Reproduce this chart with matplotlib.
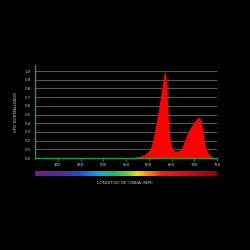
import numpy as np
import matplotlib
matplotlib.use("Agg")
import matplotlib.pyplot as plt
from matplotlib.colors import LinearSegmentedColormap

# Spectral power distribution
wavelength = [540, 560, 570, 580, 590, 595, 600, 605, 610, 615, 620, 625, 630,
              633, 635, 637, 640, 643, 646, 650, 655, 660, 665, 670, 675, 680,
              685, 690, 695, 700, 705, 710, 713, 716, 719, 722, 726, 730, 735,
              740, 745]
spd = [0.0, 0.005, 0.01, 0.02, 0.04, 0.06, 0.08, 0.13, 0.24, 0.37, 0.52, 0.68,
       0.86, 0.96, 1.0, 0.97, 0.78, 0.45, 0.24, 0.13, 0.09, 0.08, 0.085, 0.10,
       0.15, 0.22, 0.29, 0.34, 0.38, 0.42, 0.45, 0.47, 0.46, 0.40, 0.29, 0.20,
       0.10, 0.06, 0.03, 0.01, 0.0]

x_ticks = [400, 450, 500, 550, 600, 650, 700, 750]
y_ticks = [0.0, 0.1, 0.2, 0.3, 0.4, 0.5, 0.6, 0.7, 0.8, 0.9, 1.0]

green = "#1f9a4f"
grey_txt = "#cccccc"

fig = plt.figure(figsize=(2.5, 2.5), dpi=100, facecolor="black")

ax = fig.add_axes([0.14, 0.368, 0.728, 0.372])
ax.set_facecolor("black")
ax.set_xlim(350, 750)
ax.set_ylim(0, 1.07)

for y in y_ticks[1:]:
    ax.axhline(y, color="#555555", linewidth=0.8, zorder=1)

ax.fill_between(wavelength, spd, color="#ff0000", linewidth=0, zorder=2)

ax.set_xticks(x_ticks)
ax.set_yticks(y_ticks)
ax.set_xticklabels([str(v) for v in x_ticks])
ax.set_yticklabels(["%.1f" % v for v in y_ticks])
ax.tick_params(axis="x", colors=green, labelcolor=grey_txt, labelsize=2.8,
               length=2, width=0.6, pad=1.5)
ax.tick_params(axis="y", length=0, labelcolor=grey_txt, labelsize=2.8, pad=3)

for side in ["top", "right"]:
    ax.spines[side].set_visible(False)
for side in ["left", "bottom"]:
    ax.spines[side].set_color(green)
    ax.spines[side].set_linewidth(1.0)

ax.set_ylabel("SPD NORMALIZADO", color=grey_txt, fontsize=3, labelpad=5)

# Visible spectrum strip under the axis
spectrum = LinearSegmentedColormap.from_list("spectrum", [
    (0.0, "#7a1a8c"),
    (0.15, "#4b2ca8"),
    (0.25, "#1f4fd8"),
    (0.35, "#10a8e8"),
    (0.43, "#10c060"),
    (0.52, "#7fd020"),
    (0.56, "#f0e000"),
    (0.63, "#ff8000"),
    (0.70, "#ff1a00"),
    (0.85, "#e00010"),
    (1.0, "#8a0010"),
])
cax = fig.add_axes([0.14, 0.296, 0.728, 0.02])
cax.imshow(np.linspace(0, 1, 400).reshape(1, -1), cmap=spectrum,
           aspect="auto", extent=[350, 750, 0, 1])
cax.axis("off")

fig.text(0.5, 0.268, "LONGITUD DE ONDA (NM)", color=grey_txt, fontsize=3.2,
         ha="center", va="center")

fig.savefig("out.png", dpi=100, facecolor="black")
